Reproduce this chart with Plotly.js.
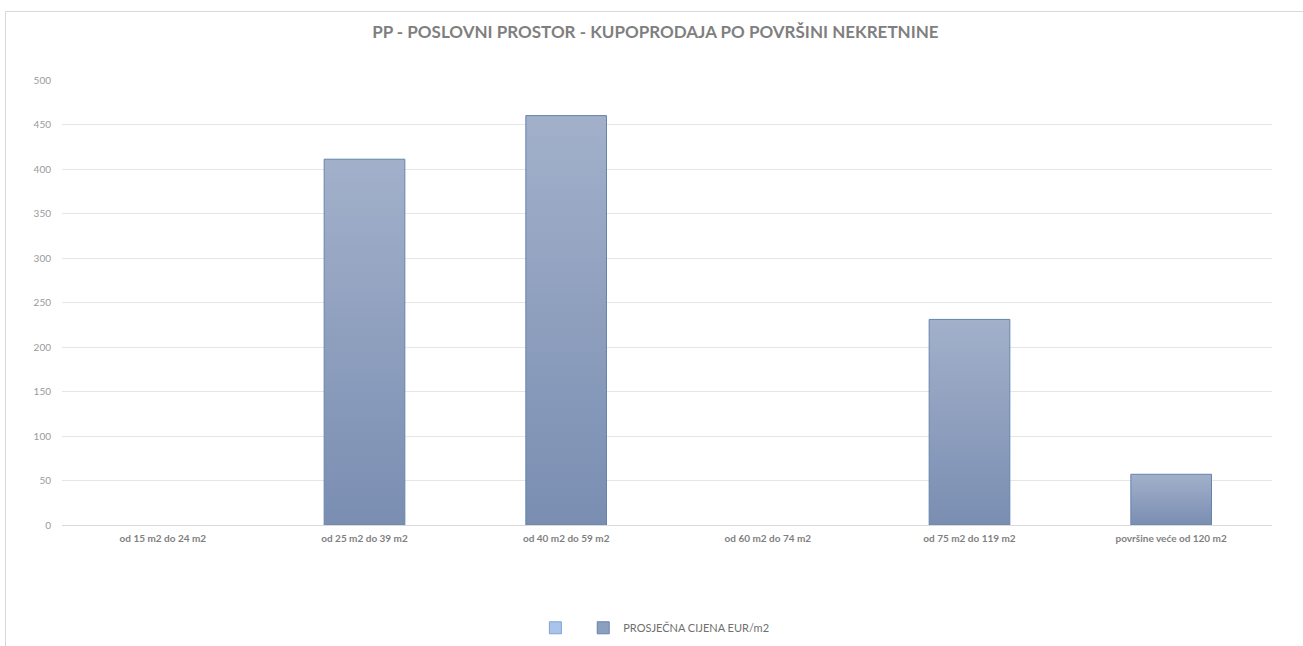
<!DOCTYPE html>
<html><head><meta charset="utf-8">
<script src="https://cdn.plot.ly/plotly-3.0.1.min.js"></script>
<style>
html,body{margin:0;padding:0;background:#fff;overflow:hidden}
#chart{width:1303px;height:646px}
#frame{position:absolute;left:5px;top:11px;width:1400px;height:700px;border:1px solid #d9d9d9;pointer-events:none}
</style></head>
<body>
<div id="chart"></div>
<div id="frame"></div>
<script>
const categories = ["od 15 m2 do 24 m2","od 25 m2 do 39 m2","od 40 m2 do 59 m2","od 60 m2 do 74 m2","od 75 m2 do 119 m2","površine veće od 120 m2"];
const emptySeries = [null,null,null,null,null,null];
const avgPrice = [null,411,460,null,231,57];
const yTicks = [0,50,100,150,200,250,300,350,400,450,500];
const seriesName = "PROSJEČNA CIJENA EUR/m2";

const traces = [
  {type:'bar', x:categories, y:emptySeries, name:' ', showlegend:true,
   marker:{color:'#a9c4eb', line:{color:'#7fa3d6', width:1}}, width:0.4, hoverinfo:'skip'},
  {type:'bar', x:categories, y:avgPrice, name:seriesName,
   marker:{color:'#8c9fbf', line:{color:'#6584ad', width:1}}, width:0.4}
];
const layout = {
  width:1303, height:646,
  margin:{l:62, r:31, t:80, b:121, autoexpand:false},
  paper_bgcolor:'#fff', plot_bgcolor:'#fff',
  barmode:'overlay',
  title:{text:'PP - POSLOVNI PROSTOR - KUPOPRODAJA PO POVRŠINI NEKRETNINE',
    font:{family:'Lato, "Open Sans", sans-serif', size:17, color:'#7f7f7f', weight:'bold'},
    x:0.503, xanchor:'center', y:0.95, yanchor:'middle'},
  xaxis:{showgrid:false, showline:false, ticks:'', zeroline:false, automargin:false,
    ticklabelstandoff:6,
    tickfont:{family:'Lato, "Open Sans", sans-serif', size:10, color:'#7f7f7f', weight:'bold'}},
  yaxis:{range:[0,500], tickvals:yTicks, showgrid:true, gridcolor:'#e6e6e6', gridwidth:1,
    zeroline:true, zerolinecolor:'#d9d9d9', zerolinewidth:1, showline:false, ticks:'',
    ticklabelstandoff:10, automargin:false,
    tickfont:{family:'Lato, "Open Sans", sans-serif', size:10, color:'#999999'}},
  showlegend:true,
  legend:{orientation:'h', x:0.49, xanchor:'center', y:-0.231, yanchor:'middle',
    font:{family:'Lato, "Open Sans", sans-serif', size:11, color:'#6f6f6f'}, itemwidth:30,
    traceorder:'normal'},
  bargap:0.6
};
Plotly.newPlot('chart', traces, layout, {displayModeBar:false, staticPlot:true}).then(function(gd){
  const svg = gd.querySelector('svg.main-svg');
  const ns = 'http://www.w3.org/2000/svg';
  let defs = svg.querySelector('defs');
  if(!defs){defs=document.createElementNS(ns,'defs');svg.insertBefore(defs,svg.firstChild);}
  const g = document.createElementNS(ns,'linearGradient');
  g.setAttribute('id','barGrad'); g.setAttribute('x1','0'); g.setAttribute('y1','0'); g.setAttribute('x2','0'); g.setAttribute('y2','1');
  [['0%','#a2b0ca'],['100%','#7a8eb2']].forEach(function(s){
    const st=document.createElementNS(ns,'stop'); st.setAttribute('offset',s[0]); st.setAttribute('stop-color',s[1]); g.appendChild(st);
  });
  defs.appendChild(g);
  const traceGroups = gd.querySelectorAll('.barlayer .trace');
  if(traceGroups.length>1){
    traceGroups[1].querySelectorAll('path').forEach(function(p){ p.style.fill='url(#barGrad)'; });
  }
});
</script>
</body></html>
